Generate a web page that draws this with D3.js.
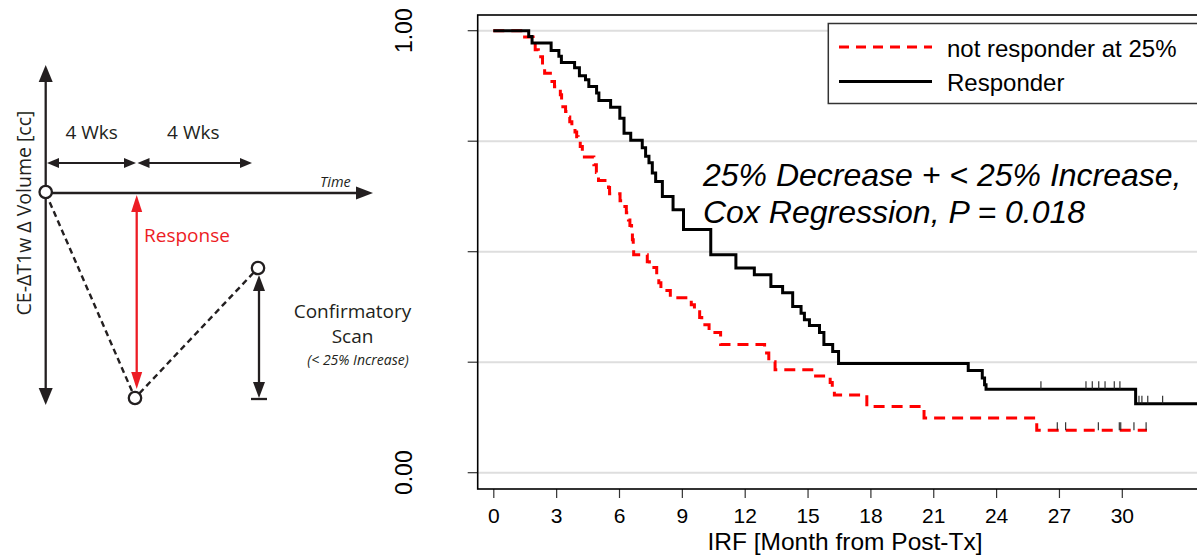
<html>
<head>
<meta charset="utf-8" />
<title>Response definition and survival by response</title>
<script src="https://d3js.org/d3.v7.min.js"></script>
<style>
  body { margin: 0; background: #fff; }
  .diag text { font-family: "Open Sans", sans-serif; fill: #231f20; }
  .km text { font-family: "Liberation Sans", Arial, sans-serif; fill: #000; }
</style>
</head>
<body>
<script>

// ---- data ----
// responder curve: time of each drop (months) and survival after it
var respT = [0, 1.69, 1.85, 2.76, 3.13, 3.25, 3.88, 4.11, 4.40, 4.56, 4.93, 5.04, 5.60, 6.04, 6.24, 6.56,
             7.11, 7.27, 7.43, 7.59, 7.75, 8.07, 8.58, 9.08, 10.38, 11.58, 12.46, 13.25, 13.81, 14.29,
             14.69, 14.85, 15.09, 15.57, 15.78, 16.20, 16.48, 22.67, 23.34, 23.45, 23.52, 30.66];
var respS = [1, 0.987, 0.972, 0.955, 0.942, 0.928, 0.916, 0.898, 0.889, 0.874, 0.859, 0.842, 0.827, 0.802, 0.768, 0.752,
             0.735, 0.716, 0.701, 0.678, 0.659, 0.625, 0.595, 0.550, 0.493, 0.463, 0.448, 0.421, 0.407, 0.376,
             0.361, 0.346, 0.333, 0.317, 0.290, 0.274, 0.247, 0.231, 0.214, 0.199, 0.189, 0.156];
var respEnd = 34;
var respCensor = [26.14, 28.29, 28.59, 28.90, 29.20, 29.64, 29.91, 30.82, 30.96, 31.24, 31.95];

// not responder at 25%
var nonT = [0, 1.40, 1.90, 2.00, 2.15, 2.35, 2.45, 2.80, 2.92, 3.20, 3.26, 3.32, 3.45, 3.55, 3.65, 3.75, 3.90, 3.98,
            4.05, 4.15, 4.25, 4.80, 4.92, 5.02, 5.50, 5.55, 6.05, 6.18, 6.35, 6.45, 6.52, 6.60, 6.64, 6.68, 6.70,
            7.35, 7.45, 7.80, 7.90, 8.00, 8.45, 9.45, 9.60, 9.85, 9.95, 10.30, 10.85, 12.95, 13.15, 13.45,
            15.30, 16.08, 16.18, 16.28, 17.83, 20.56, 25.94];
var nonS = [1, 0.986, 0.973, 0.957, 0.941, 0.923, 0.904, 0.885, 0.873, 0.855, 0.842, 0.828, 0.817, 0.805, 0.794, 0.783, 0.771, 0.760,
            0.749, 0.738, 0.714, 0.697, 0.679, 0.661, 0.645, 0.631, 0.615, 0.602, 0.588, 0.572, 0.559, 0.543, 0.527, 0.511, 0.493,
            0.477, 0.464, 0.446, 0.430, 0.412, 0.396, 0.380, 0.364, 0.351, 0.335, 0.317, 0.290, 0.271, 0.251, 0.233,
            0.219, 0.204, 0.190, 0.176, 0.150, 0.124, 0.096];
var nonEnd = 31.2;
var nonCensor = [26.92, 27.32, 28.88, 29.88, 29.95, 30.58, 31.16];

var xTicks = [0, 3, 6, 9, 12, 15, 18, 21, 24, 27, 30];
var yTicks = [0, 0.25, 0.5, 0.75, 1];
var yLabelTicks = [0, 1];
var legendNames = ["not responder at 25%", "Responder"];
var noteLines = ["25% Decrease + < 25% Increase,", "Cox Regression, P = 0.018"];

var W = 1197, H = 557;
var svg = d3.select("body").append("svg").attr("width", W).attr("height", H);

// ================= left: schematic =================
var dg = svg.append("g").attr("class", "diag");
var ink = "#231f20", red = "#ed1c24";

function head(g, x, y, ang, len, wid, col) {
  // triangle with tip at (x,y) pointing along ang
  var c = Math.cos(ang), s = Math.sin(ang);
  var bx = x - c * len, by = y - s * len;
  var px = -s * wid / 2, py = c * wid / 2;
  g.append("path")
    .attr("d", "M" + x + "," + y + "L" + (bx + px) + "," + (by + py) + "L" + (bx - px) + "," + (by - py) + "Z")
    .attr("fill", col);
}
function arrow(g, x1, y1, x2, y2, o) {
  var ang = Math.atan2(y2 - y1, x2 - x1), c = Math.cos(ang), s = Math.sin(ang);
  var sx = x1, sy = y1, ex = x2, ey = y2;
  if (o.start) { sx += c * (o.len - 2); sy += s * (o.len - 2); }
  if (o.end) { ex -= c * (o.len - 2); ey -= s * (o.len - 2); }
  g.append("line").attr("x1", sx).attr("y1", sy).attr("x2", ex).attr("y2", ey)
    .attr("stroke", o.col).attr("stroke-width", o.sw || 2.3);
  if (o.end) head(g, x2, y2, ang, o.len, o.wid, o.col);
  if (o.start) head(g, x1, y1, ang + Math.PI, o.len, o.wid, o.col);
}

arrow(dg, 45.7, 65, 45.7, 405, {start: true, end: true, len: 17, wid: 14, col: ink});
arrow(dg, 45.7, 193, 373, 193, {end: true, len: 17, wid: 13, col: ink});
arrow(dg, 47, 163, 136, 163, {start: true, end: true, len: 12, wid: 10, col: ink, sw: 1.8});
arrow(dg, 137.5, 163, 252, 163, {start: true, end: true, len: 12, wid: 10, col: ink, sw: 1.8});
arrow(dg, 136.7, 195, 136.7, 389, {start: true, end: true, len: 17, wid: 11, col: red});
arrow(dg, 259, 275, 259, 398, {start: true, end: true, len: 16, wid: 12, col: ink});
dg.append("line").attr("x1", 251).attr("x2", 267).attr("y1", 399).attr("y2", 399)
  .attr("stroke", ink).attr("stroke-width", 2.3);

dg.append("path").attr("d", "M45.7,193L135,398L258,268")
  .attr("fill", "none").attr("stroke", ink).attr("stroke-width", 2.4).attr("stroke-dasharray", "6,4");

[[45.7, 192], [135, 398], [258, 268]].forEach(function(p) {
  dg.append("circle").attr("cx", p[0]).attr("cy", p[1]).attr("r", 6.2)
    .attr("fill", "#fff").attr("stroke", ink).attr("stroke-width", 2.3);
});

dg.append("text").attr("x", 91.7).attr("y", 139).attr("text-anchor", "middle").attr("font-size", 19).text("4 Wks");
dg.append("text").attr("x", 193.3).attr("y", 139).attr("text-anchor", "middle").attr("font-size", 19).text("4 Wks");
dg.append("text").attr("x", 320).attr("y", 187).attr("font-size", 14.5).attr("font-style", "italic").text("Time");
dg.append("text").attr("x", 144).attr("y", 242).attr("font-size", 19).style("fill", red).text("Response");
dg.append("text").attr("x", 352.5).attr("y", 318).attr("text-anchor", "middle").attr("font-size", 19).text("Confirmatory");
dg.append("text").attr("x", 352.5).attr("y", 343).attr("text-anchor", "middle").attr("font-size", 19).text("Scan");
dg.append("text").attr("x", 358).attr("y", 365).attr("text-anchor", "middle").attr("font-size", 14)
  .attr("font-style", "italic").text("(< 25% Increase)");
dg.append("text").attr("transform", "translate(31,213) rotate(-90)").attr("text-anchor", "middle")
  .attr("font-size", 19.5).text("CE-\u0394T1w \u0394 Volume [cc]");

// ================= right: Kaplan-Meier =================
var km = svg.append("g").attr("class", "km");
var frame = {left: 477.7, top: 15, right: 1205, bottom: 489};

var xScale = d3.scaleLinear().domain([0, 30]).range([493.3, 1121.8]);
var yScale = d3.scaleLinear().domain([0, 1]).range([472.7, 30.7]);

// grid
km.selectAll(".grid").data(yTicks).enter().append("line")
  .attr("x1", frame.left).attr("x2", frame.right)
  .attr("y1", d => yScale(d)).attr("y2", d => yScale(d))
  .attr("stroke", "#dedede").attr("stroke-width", 2);

// y ticks
km.selectAll(".ytick").data(yTicks).enter().append("line")
  .attr("x1", frame.left - 10).attr("x2", frame.left)
  .attr("y1", d => yScale(d)).attr("y2", d => yScale(d))
  .attr("stroke", "#333").attr("stroke-width", 1.2);
km.selectAll(".ylab").data(yLabelTicks).enter().append("text")
  .attr("transform", d => "translate(412," + yScale(d) + ") rotate(-90)")
  .attr("text-anchor", "middle").attr("font-size", 23)
  .text(d => d3.format(".2f")(d));

// x axis
var xAxis = km.append("g").attr("transform", "translate(0," + frame.bottom + ")")
  .call(d3.axisBottom(xScale).tickValues(xTicks).tickSize(9).tickPadding(10).tickFormat(d3.format("d")));
xAxis.select(".domain").remove();
xAxis.selectAll(".tick line").attr("stroke", "#333").attr("stroke-width", 1.2);
xAxis.selectAll(".tick text").attr("font-family", "Liberation Sans, Arial, sans-serif")
  .attr("font-size", 21).attr("fill", "#000");

km.append("text").attr("x", 845).attr("y", 550).attr("text-anchor", "middle").attr("font-size", 24.5)
  .text("IRF [Month from Post-Tx]");

// curves
svg.append("defs").append("clipPath").attr("id", "plotclip").append("rect")
  .attr("x", frame.left).attr("y", frame.top).attr("width", frame.right - frame.left).attr("height", frame.bottom - frame.top);

var step = d3.line().x(d => xScale(d[0])).y(d => yScale(d[1])).curve(d3.curveStepAfter);
function pts(T, S, end) {
  var p = T.map((t, i) => [t, S[i]]);
  p.push([end, S[S.length - 1]]);
  return p;
}
function survAt(T, S, t) { return S[d3.bisectRight(T, t) - 1]; }

var curves = km.append("g").attr("clip-path", "url(#plotclip)");
curves.append("path").datum(pts(nonT, nonS, nonEnd)).attr("d", step)
  .attr("fill", "none").attr("stroke", "#ff0000").attr("stroke-width", 3).attr("stroke-dasharray", "11,7");
curves.append("path").datum(pts(respT, respS, respEnd)).attr("d", step)
  .attr("fill", "none").attr("stroke", "#000").attr("stroke-width", 3);

curves.selectAll(".cr").data(respCensor).enter().append("line")
  .attr("x1", d => xScale(d)).attr("x2", d => xScale(d))
  .attr("y1", d => yScale(survAt(respT, respS, d)) - 8).attr("y2", d => yScale(survAt(respT, respS, d)))
  .attr("stroke", "#222").attr("stroke-width", 1.1);
curves.selectAll(".cn").data(nonCensor).enter().append("line")
  .attr("x1", d => xScale(d)).attr("x2", d => xScale(d))
  .attr("y1", d => yScale(survAt(nonT, nonS, d)) - 8).attr("y2", d => yScale(survAt(nonT, nonS, d)))
  .attr("stroke", "#222").attr("stroke-width", 1.1);

// frame
km.append("rect").attr("x", frame.left).attr("y", frame.top)
  .attr("width", frame.right - frame.left).attr("height", frame.bottom - frame.top)
  .attr("fill", "none").attr("stroke", "#000").attr("stroke-width", 1.6);

// legend
var lg = km.append("g");
lg.append("rect").attr("x", 828.3).attr("y", 23.5).attr("width", 400).attr("height", 80)
  .attr("fill", "#fff").attr("stroke", "#333").attr("stroke-width", 1.5);
var legendStyle = [{col: "#ff0000", dash: "10,7"}, {col: "#000", dash: null}];
legendNames.forEach(function(name, i) {
  var ly = i === 0 ? 47 : 81.5;
  lg.append("line").attr("x1", 839).attr("x2", 932).attr("y1", ly).attr("y2", ly)
    .attr("stroke", legendStyle[i].col).attr("stroke-width", 3)
    .attr("stroke-dasharray", legendStyle[i].dash);
  lg.append("text").attr("x", 947).attr("y", ly + 9.7).attr("font-size", 24).text(name);
});

// annotation
noteLines.forEach(function(t, i) {
  km.append("text").attr("x", 703).attr("y", 186 + i * 37.3).attr("font-size", 32)
    .attr("font-style", "italic").text(t);
});

</script>
</body>
</html>
